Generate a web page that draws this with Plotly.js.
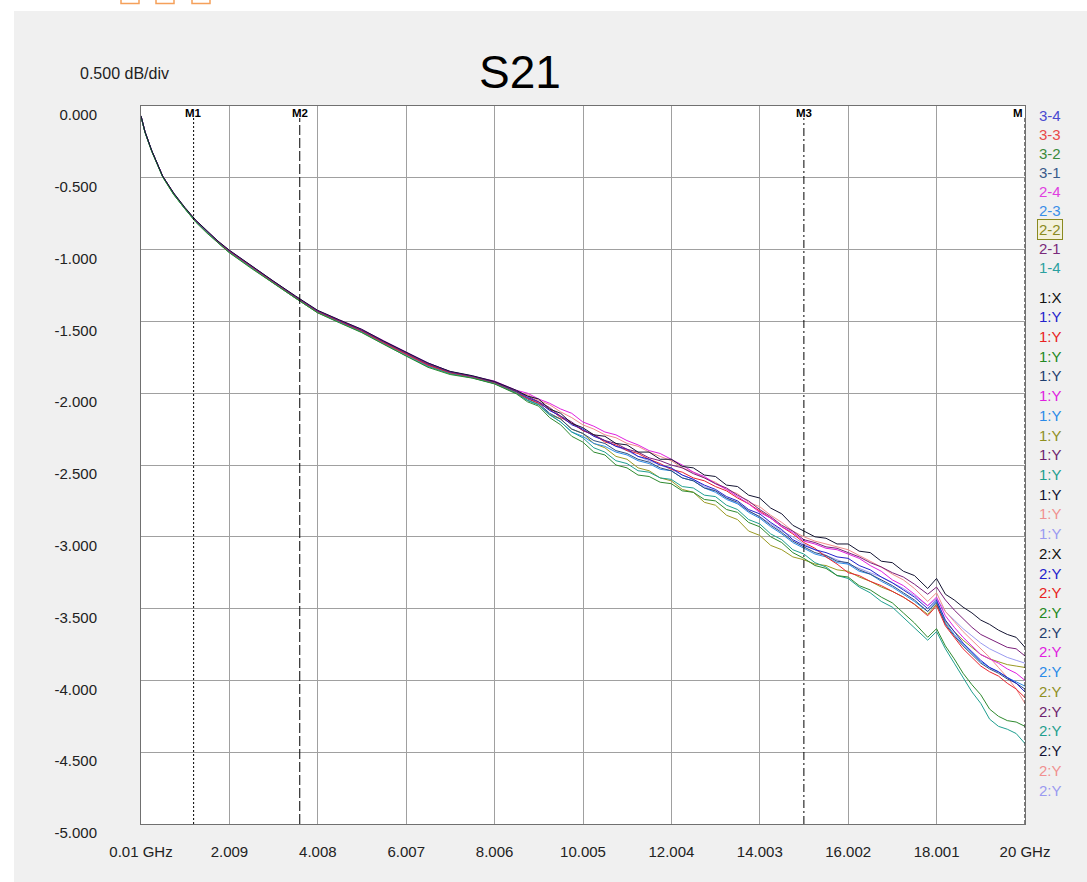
<!DOCTYPE html>
<html>
<head>
<meta charset="utf-8">
<script src="https://cdn.plot.ly/plotly-3.0.1.min.js"></script>
<style>
  html, body { margin: 0; padding: 0; background: #ffffff; }
  #chart { width: 1087px; height: 882px; }
</style>
</head>
<body>
<div id="chart"></div>
<script>
// Frequency points (GHz) shared by every S21 trace
const freqGHz = [0.01,0.1,0.25,0.5,0.75,1.0,1.25,1.5,1.75,2.0,2.5,3.0,3.5,4.0,4.5,5.0,5.5,6.0,6.5,7.0,7.5,8.0,
  8.5,8.75,9.0,9.25,9.5,9.75,10.0,10.25,10.5,10.75,11.0,11.25,11.5,11.75,12.0,12.25,12.5,12.75,13.0,13.25,13.5,13.75,
  14.0,14.25,14.5,14.75,15.0,15.25,15.5,15.75,16.0,16.25,16.5,16.75,17.0,17.25,17.5,
  17.8,18.0,18.2,18.4,18.6,18.8,19.0,19.2,19.4,19.6,19.8,20.0];

// Insertion loss (dB) per trace
const s21_blue = [-0.07,-0.18,-0.31,-0.49,-0.61,-0.71,-0.80,-0.873,-0.943,-1.005,-1.115,-1.22,-1.325,-1.425,-1.495,-1.56,-1.64,-1.715,-1.79,-1.85,-1.88,-1.92,
  -1.985,-2.03,-2.06,-2.12,-2.16,-2.22,-2.25,-2.30,-2.33,-2.37,-2.39,-2.44,-2.46,-2.50,-2.52,-2.57,-2.60,-2.64,-2.67,-2.72,-2.75,-2.81,
  -2.84,-2.90,-2.95,-3.02,-3.06,-3.09,-3.11,-3.14,-3.15,-3.20,-3.23,-3.28,-3.32,-3.37,-3.42,
  -3.50,-3.44,-3.58,-3.66,-3.74,-3.80,-3.86,-3.91,-3.94,-3.98,-4.02,-4.08];
const s21_red = [-0.07,-0.18,-0.31,-0.49,-0.612,-0.712,-0.802,-0.877,-0.947,-1.012,-1.122,-1.228,-1.335,-1.435,-1.50,-1.568,-1.65,-1.725,-1.805,-1.86,-1.89,-1.93,
  -2.0,-2.03,-2.07,-2.11,-2.17,-2.21,-2.26,-2.29,-2.34,-2.36,-2.40,-2.42,-2.46,-2.49,-2.53,-2.55,-2.59,-2.61,-2.65,-2.68,-2.73,-2.77,
  -2.82,-2.87,-2.93,-2.98,-3.04,-3.08,-3.14,-3.19,-3.25,-3.27,-3.31,-3.34,-3.38,-3.42,-3.47,
  -3.55,-3.48,-3.62,-3.70,-3.78,-3.84,-3.90,-3.94,-3.97,-4.02,-4.06,-4.12];
const s21_green = [-0.075,-0.185,-0.315,-0.495,-0.618,-0.718,-0.81,-0.885,-0.955,-1.02,-1.13,-1.235,-1.34,-1.44,-1.51,-1.578,-1.66,-1.74,-1.82,-1.87,-1.895,-1.935,
  -2.005,-2.06,-2.09,-2.17,-2.22,-2.30,-2.34,-2.41,-2.43,-2.50,-2.52,-2.57,-2.58,-2.62,-2.63,-2.68,-2.69,-2.74,-2.75,-2.81,-2.83,-2.90,
  -2.93,-3.00,-3.04,-3.11,-3.15,-3.20,-3.22,-3.27,-3.28,-3.34,-3.37,-3.42,-3.46,-3.53,-3.60,
  -3.70,-3.64,-3.76,-3.85,-3.95,-4.03,-4.10,-4.20,-4.25,-4.28,-4.29,-4.32];
const s21_slate = [-0.07,-0.18,-0.31,-0.49,-0.61,-0.71,-0.80,-0.875,-0.945,-1.01,-1.12,-1.225,-1.33,-1.43,-1.50,-1.565,-1.645,-1.72,-1.80,-1.855,-1.885,-1.925,
  -1.99,-2.04,-2.07,-2.14,-2.18,-2.25,-2.28,-2.33,-2.35,-2.40,-2.42,-2.46,-2.48,-2.52,-2.54,-2.59,-2.61,-2.66,-2.68,-2.73,-2.76,-2.82,
  -2.86,-2.92,-2.97,-3.03,-3.07,-3.11,-3.13,-3.17,-3.18,-3.23,-3.26,-3.30,-3.34,-3.39,-3.44,
  -3.52,-3.46,-3.61,-3.69,-3.76,-3.82,-3.88,-3.92,-3.95,-3.99,-4.02,-4.06];
const s21_magenta = [-0.07,-0.18,-0.31,-0.488,-0.608,-0.708,-0.798,-0.872,-0.942,-1.005,-1.115,-1.22,-1.325,-1.425,-1.49,-1.555,-1.635,-1.71,-1.79,-1.85,-1.88,-1.915,
  -1.98,-2.00,-2.04,-2.07,-2.11,-2.14,-2.20,-2.23,-2.27,-2.29,-2.33,-2.36,-2.40,-2.42,-2.46,-2.50,-2.55,-2.58,-2.63,-2.67,-2.72,-2.77,
  -2.83,-2.87,-2.93,-2.97,-3.03,-3.05,-3.08,-3.09,-3.12,-3.15,-3.20,-3.24,-3.30,-3.34,-3.40,
  -3.48,-3.42,-3.55,-3.63,-3.70,-3.76,-3.82,-3.85,-3.88,-3.92,-3.95,-4.00];
const s21_sky = [-0.07,-0.18,-0.31,-0.49,-0.612,-0.713,-0.803,-0.878,-0.948,-1.013,-1.123,-1.228,-1.335,-1.435,-1.505,-1.57,-1.652,-1.73,-1.81,-1.862,-1.892,-1.932,
  -2.0,-2.05,-2.08,-2.15,-2.20,-2.27,-2.30,-2.35,-2.37,-2.41,-2.43,-2.47,-2.49,-2.53,-2.54,-2.59,-2.61,-2.66,-2.69,-2.74,-2.77,-2.83,
  -2.87,-2.93,-2.98,-3.04,-3.08,-3.12,-3.14,-3.18,-3.19,-3.24,-3.26,-3.31,-3.35,-3.40,-3.45,
  -3.52,-3.45,-3.60,-3.68,-3.75,-3.81,-3.87,-3.91,-3.94,-3.98,-4.01,-4.04];
const s21_olive = [-0.072,-0.182,-0.312,-0.492,-0.615,-0.715,-0.806,-0.882,-0.952,-1.018,-1.128,-1.232,-1.338,-1.438,-1.505,-1.572,-1.655,-1.73,-1.81,-1.862,-1.892,-1.93,
  -1.995,-2.05,-2.08,-2.15,-2.18,-2.25,-2.28,-2.35,-2.38,-2.44,-2.46,-2.52,-2.54,-2.59,-2.61,-2.67,-2.69,-2.76,-2.78,-2.85,-2.88,-2.96,
  -2.99,-3.06,-3.09,-3.14,-3.16,-3.19,-3.20,-3.23,-3.24,-3.28,-3.31,-3.35,-3.38,-3.42,-3.47,
  -3.54,-3.47,-3.59,-3.66,-3.72,-3.77,-3.82,-3.85,-3.87,-3.89,-3.90,-3.91];
const s21_purple = [-0.07,-0.18,-0.31,-0.49,-0.61,-0.71,-0.80,-0.875,-0.945,-1.008,-1.118,-1.222,-1.328,-1.428,-1.495,-1.562,-1.642,-1.718,-1.797,-1.853,-1.883,-1.923,
  -1.99,-2.02,-2.06,-2.10,-2.16,-2.20,-2.26,-2.29,-2.33,-2.35,-2.39,-2.41,-2.45,-2.47,-2.50,-2.52,-2.56,-2.59,-2.63,-2.66,-2.71,-2.75,
  -2.81,-2.86,-2.92,-2.96,-3.02,-3.04,-3.07,-3.08,-3.11,-3.14,-3.18,-3.21,-3.25,-3.28,-3.33,
  -3.40,-3.35,-3.44,-3.51,-3.57,-3.63,-3.68,-3.71,-3.74,-3.77,-3.78,-3.83];
const s21_teal = [-0.073,-0.183,-0.313,-0.493,-0.616,-0.716,-0.807,-0.883,-0.953,-1.018,-1.128,-1.233,-1.338,-1.438,-1.508,-1.575,-1.658,-1.74,-1.815,-1.865,-1.893,-1.933,
  -2.0,-2.05,-2.08,-2.15,-2.20,-2.27,-2.31,-2.38,-2.41,-2.47,-2.49,-2.54,-2.55,-2.59,-2.60,-2.65,-2.66,-2.71,-2.72,-2.78,-2.81,-2.88,
  -2.91,-2.98,-3.02,-3.09,-3.12,-3.18,-3.21,-3.27,-3.29,-3.35,-3.39,-3.45,-3.49,-3.56,-3.63,
  -3.72,-3.66,-3.78,-3.88,-3.98,-4.08,-4.16,-4.27,-4.32,-4.34,-4.37,-4.44];
const s21_dark = [-0.068,-0.178,-0.308,-0.488,-0.606,-0.705,-0.795,-0.87,-0.94,-1.002,-1.112,-1.218,-1.322,-1.422,-1.49,-1.555,-1.637,-1.712,-1.79,-1.848,-1.878,-1.918,
  -1.98,-2.02,-2.04,-2.11,-2.14,-2.21,-2.24,-2.29,-2.30,-2.35,-2.36,-2.41,-2.41,-2.46,-2.46,-2.51,-2.52,-2.57,-2.58,-2.64,-2.65,-2.71,
  -2.73,-2.80,-2.84,-2.92,-2.96,-3.00,-3.01,-3.05,-3.05,-3.10,-3.11,-3.17,-3.18,-3.24,-3.27,
  -3.36,-3.29,-3.40,-3.44,-3.49,-3.53,-3.58,-3.61,-3.65,-3.68,-3.70,-3.77];
const s21_pink = [-0.07,-0.18,-0.31,-0.49,-0.61,-0.71,-0.80,-0.876,-0.946,-1.01,-1.12,-1.226,-1.332,-1.432,-1.497,-1.565,-1.648,-1.725,-1.805,-1.858,-1.885,-1.925,
  -1.99,-2.01,-2.05,-2.08,-2.13,-2.17,-2.22,-2.25,-2.29,-2.31,-2.35,-2.37,-2.41,-2.44,-2.47,-2.52,-2.55,-2.59,-2.62,-2.67,-2.70,-2.76,
  -2.79,-2.85,-2.90,-2.96,-3.00,-3.03,-3.05,-3.07,-3.09,-3.13,-3.17,-3.21,-3.26,-3.30,-3.36,
  -3.45,-3.39,-3.52,-3.59,-3.66,-3.72,-3.78,-3.84,-3.91,-3.98,-4.06,-4.16];
const s21_lavender = [-0.07,-0.18,-0.31,-0.49,-0.61,-0.71,-0.80,-0.875,-0.945,-1.01,-1.12,-1.224,-1.33,-1.43,-1.497,-1.563,-1.645,-1.72,-1.80,-1.855,-1.885,-1.925,
  -1.99,-2.03,-2.06,-2.12,-2.16,-2.21,-2.25,-2.30,-2.33,-2.37,-2.40,-2.44,-2.47,-2.50,-2.53,-2.57,-2.60,-2.65,-2.68,-2.73,-2.77,-2.82,
  -2.86,-2.91,-2.96,-3.00,-3.05,-3.09,-3.13,-3.16,-3.19,-3.22,-3.25,-3.28,-3.32,-3.36,-3.41,
  -3.48,-3.43,-3.52,-3.58,-3.64,-3.69,-3.74,-3.78,-3.81,-3.84,-3.86,-3.88];

// Trace drawing order and colours
const traceData = [s21_lavender, s21_pink, s21_olive, s21_sky, s21_slate, s21_red, s21_blue, s21_magenta, s21_purple, s21_teal, s21_green, s21_dark];
const traceColors = ['#9a9af0', '#f08a8a', '#9a9a22', '#2e8ce8', '#2f4f7f', '#e8242e', '#2222cc', '#e020e0', '#7a1f7a', '#1f9f8f', '#2e8a2e', '#141432'];

// Axis ticks
const xTickVals = [0.01, 2.009, 4.008, 6.007, 8.006, 10.005, 12.004, 14.003, 16.002, 18.001, 20];
const xTickText = ['0.01 GHz', '2.009', '4.008', '6.007', '8.006', '10.005', '12.004', '14.003', '16.002', '18.001', '20 GHz'];
const yTickVals = [0, -0.5, -1, -1.5, -2, -2.5, -3, -3.5, -4, -4.5, -5];
const yTickText = ['0.000', '-0.500', '-1.000', '-1.500', '-2.000', '-2.500', '-3.000', '-3.500', '-4.000', '-4.500', '-5.000'];

// Markers
const markerGHz = [1.2, 3.6, 15.0, 20.0];
const markerLabels = ['M1', 'M2', 'M3', 'M'];
const markerDash = ['2px,2px', '10px,3px', '8px,3px,2px,3px', '4px,2px'];

// Side legend: port pairs, then marker readout rows
const pairNames = ['3-4', '3-3', '3-2', '3-1', '2-4', '2-3', '2-2', '2-1', '1-4'];
const pairColors = ['#4a4ad0', '#e84a4a', '#3a8a3a', '#3a5a8a', '#e040e0', '#3a8ee8', '#8a8a20', '#7a2a7a', '#2aa0a0'];
const readoutNames = ['1:X', '1:Y', '1:Y', '1:Y', '1:Y', '1:Y', '1:Y', '1:Y', '1:Y', '1:Y', '1:Y', '1:Y', '1:Y',
                      '2:X', '2:Y', '2:Y', '2:Y', '2:Y', '2:Y', '2:Y', '2:Y', '2:Y', '2:Y', '2:Y', '2:Y', '2:Y'];
const readoutColors = ['#111111', '#2222cc', '#e82222', '#228822', '#1e3e6e', '#e020e0', '#2a8ae8', '#8f8f1f', '#6f1f6f', '#1f9f8f', '#111133', '#f09090', '#9a9af0',
                       '#111111', '#2222cc', '#e82222', '#228822', '#1e3e6e', '#e020e0', '#2a8ae8', '#8f8f1f', '#6f1f6f', '#1f9f8f', '#111133', '#f09090', '#9a9af0'];

const FONT = 'Arial, "Liberation Sans", sans-serif';
const W = 1087, H = 882;
const M = { l: 141, r: 62, t: 106, b: 58 };
const plotW = W - M.l - M.r, plotH = H - M.t - M.b;
// pixel -> paper coordinate helpers for page decoration
const px = X => (X - M.l) / plotW;
const py = Y => (H - M.b - Y) / plotH;

const traces = traceData.map((vals, i) => ({
  type: 'scatter', mode: 'lines',
  x: freqGHz, y: vals,
  line: { color: traceColors[i], width: 1 },
  hoverinfo: 'x+y', showlegend: false
}));

const shapes = [];
// white strips above and left of the grey panel
shapes.push({ type: 'rect', xref: 'paper', yref: 'paper', x0: px(0), x1: px(W), y0: py(11), y1: py(0), fillcolor: '#ffffff', line: { width: 0 }, layer: 'above' });
shapes.push({ type: 'rect', xref: 'paper', yref: 'paper', x0: px(0), x1: px(14), y0: py(H), y1: py(0), fillcolor: '#ffffff', line: { width: 0 }, layer: 'above' });
// toolbar buttons at the top edge
[[121, 139], [156, 174], [192, 210]].forEach(([a, b]) => {
  shapes.push({ type: 'rect', xref: 'paper', yref: 'paper', x0: px(a), x1: px(b), y0: py(3.5), y1: py(-6), line: { color: '#f5a05a', width: 1.5 }, fillcolor: 'rgba(0,0,0,0)', layer: 'above' });
});
// marker lines
markerGHz.forEach((f, i) => {
  shapes.push({ type: 'line', xref: 'x', yref: 'paper', x0: f, x1: f, y0: 0, y1: py(118), line: { color: '#000000', width: 1, dash: markerDash[i] }, layer: 'above' });
});

const annotations = [];
annotations.push({ xref: 'paper', yref: 'paper', x: px(78), y: py(73), xanchor: 'left', yanchor: 'middle', showarrow: false, text: '0.500 dB/div', font: { family: FONT, size: 16, color: '#222222' } });
markerGHz.forEach((f, i) => {
  annotations.push({ xref: 'x', yref: 'paper', x: f, y: py(113), xanchor: i === 3 ? 'right' : 'center', yanchor: 'middle', showarrow: false, text: '<b>' + markerLabels[i] + '</b>', font: { family: FONT, size: 11.5, color: '#000000' } });
});
pairNames.forEach((n, i) => {
  const a = { xref: 'paper', yref: 'paper', x: px(1037), y: py(115.5 + i * 18.95), xanchor: 'left', yanchor: 'middle', showarrow: false, text: n, font: { family: FONT, size: 15, color: pairColors[i] } };
  if (n === '2-2') { a.bordercolor = '#8a8a20'; a.borderwidth = 1; a.borderpad = 1; a.bgcolor = '#f3f1dc'; }
  annotations.push(a);
});
readoutNames.forEach((n, i) => {
  annotations.push({ xref: 'paper', yref: 'paper', x: px(1037), y: py(297 + i * 19.72), xanchor: 'left', yanchor: 'middle', showarrow: false, text: n, font: { family: FONT, size: 15, color: readoutColors[i] } });
});

const layout = {
  width: W, height: H,
  margin: M,
  paper_bgcolor: '#f0f0f0',
  plot_bgcolor: '#ffffff',
  font: { family: FONT, size: 15, color: '#222222' },
  title: { text: 'S21', font: { family: FONT, size: 46, color: '#000000' }, xref: 'paper', x: px(520), xanchor: 'center', yref: 'container', y: 1 - 72 / H, yanchor: 'middle' },
  xaxis: {
    range: [0.01, 20], tickvals: xTickVals, ticktext: xTickText,
    showgrid: true, gridcolor: '#a0a0a0', gridwidth: 1, zeroline: false,
    showline: true, linecolor: '#707070', linewidth: 1, mirror: true,
    ticks: '', ticklabelstandoff: 14,
    tickfont: { family: FONT, size: 15, color: '#222222' }
  },
  yaxis: {
    range: [-5, 0], tickvals: yTickVals, ticktext: yTickText,
    showgrid: true, gridcolor: '#a0a0a0', gridwidth: 1, zeroline: false,
    showline: true, linecolor: '#707070', linewidth: 1, mirror: true,
    ticks: '', ticklabelstandoff: 40, ticklabelshift: 9,
    tickfont: { family: FONT, size: 15, color: '#222222' }
  },
  shapes: shapes,
  annotations: annotations,
  showlegend: false
};

Plotly.newPlot('chart', traces, layout, { displayModeBar: false, staticPlot: true });
</script>
</body>
</html>
